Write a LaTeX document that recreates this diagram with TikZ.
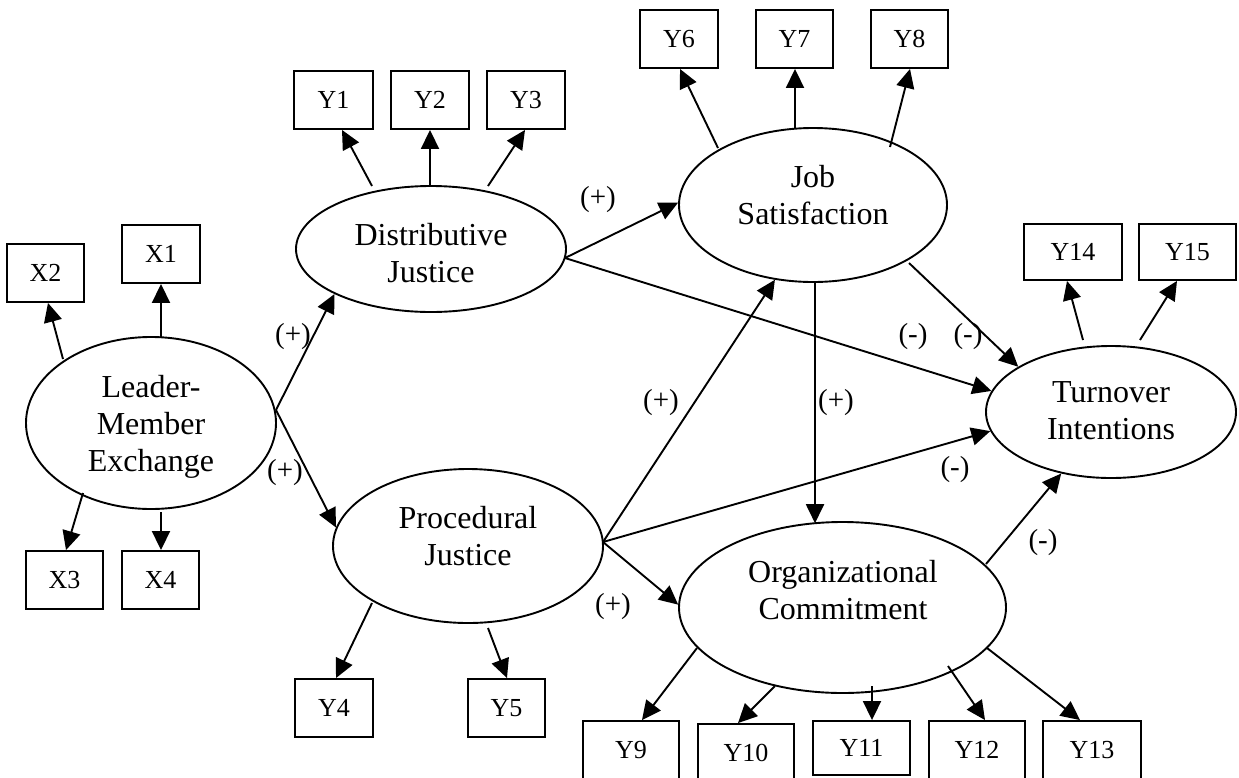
\documentclass[tikz,border=0pt]{standalone}
\usepackage{fontspec}
\setmainfont{Liberation Serif}
\usetikzlibrary{shapes.geometric,arrows.meta,calc}
\begin{document}
\begin{tikzpicture}[x=1pt,y=-1pt,
  lat/.style={ellipse,draw,line width=1.9pt,inner sep=0pt},
  txt/.style={inner sep=0pt,align=center,font=\fontsize{32}{37}\selectfont},
  obs/.style={rectangle,draw,line width=1.9pt,inner sep=0pt,minimum width=78pt,minimum height=58pt,font=\fontsize{26}{30}\selectfont},
  lab/.style={inner sep=0pt,font=\fontsize{29}{32}\selectfont},
  arr/.style={line width=1.9pt,-{Triangle[length=19pt,width=18pt]}}]
\useasboundingbox (0,0) rectangle (1239,777);

% latent variables
\node[lat,minimum width=250pt,minimum height=172pt] (lmx) at (151,423) {};
\node[txt] (lmxt) at (151,427) {Leader-\\Member\\Exchange};
\node[lat,minimum width=270pt,minimum height=126pt] (dj) at (431,249) {};
\node[txt] (djt) at (431,253) {Distributive\\Justice};
\node[lat,minimum width=268pt,minimum height=154pt] (js) at (813,205) {};
\node[txt] (jst) at (813,195.5) {Job\\Satisfaction};
\node[lat,minimum width=270pt,minimum height=154pt] (pj) at (468,546) {};
\node[txt] (pjt) at (468,536) {Procedural\\Justice};
\node[lat,minimum width=327pt,minimum height=171pt] (oc) at (842.5,607.5) {};
\node[txt] (oct) at (843,590) {Organizational\\Commitment};
\node[lat,minimum width=250pt,minimum height=132pt] (ti) at (1111,412) {};
\node[txt] (tit) at (1111,411) {Turnover\\Intentions};

% indicators
\node[obs,minimum width=77pt] (x2) at (45.5,273) {X2};
\node[obs] (x1) at (161,254) {X1};
\node[obs,minimum width=77pt] (x3) at (64.5,580) {X3};
\node[obs,minimum width=77pt] (x4) at (160.5,580) {X4};
\node[obs,minimum width=79pt] (y1) at (333.5,100) {Y1};
\node[obs] (y2) at (430,100) {Y2};
\node[obs] (y3) at (526,100) {Y3};
\node[obs] (y4) at (334,708) {Y4};
\node[obs,minimum width=77pt] (y5) at (506.5,708) {Y5};
\node[obs] (y6) at (679,39) {Y6};
\node[obs,minimum width=77pt] (y7) at (794.5,39) {Y7};
\node[obs,minimum width=77pt] (y8) at (909.5,39) {Y8};
\node[obs,minimum width=98pt,minimum height=56pt] (y14) at (1073,252) {Y14};
\node[obs,minimum width=97pt,minimum height=56pt] (y15) at (1187.5,252) {Y15};
\node[obs,minimum width=96pt] (y9) at (631,750) {Y9};
\node[obs,minimum width=96pt] (y10) at (746,753) {Y10};
\node[obs,minimum width=97pt,minimum height=54pt] (y11) at (861.5,748) {Y11};
\node[obs,minimum width=96pt] (y12) at (977,750) {Y12};
\node[obs,minimum width=98pt] (y13) at (1092,750) {Y13};

% LMX
\draw[arr] ($(lmx.center)+(-88,-64)$) -- ($(x2.south)+(2.5,0)$);
\draw[arr] ($(lmx.center)+(10,-86)$) -- (x1.south);
\draw[arr] ($(lmx.center)+(-68,70)$) -- ($(x3.north)+(1.5,0)$);
\draw[arr] ($(lmx.center)+(10,89)$) -- ($(x4.north)+(0.5,0)$);
\draw[arr] ($(lmx.center)+(125,-13)$) -- (dj.205);
\draw[arr] ($(lmx.center)+(125,-13)$) -- (pj.172);

% DJ
\draw[arr] ($(dj.center)+(-59,-63)$) -- ($(y1.south)+(8.5,0)$);
\draw[arr] ($(dj.center)+(-1,-63)$) -- (y2.south);
\draw[arr] ($(dj.center)+(57,-63)$) -- ($(y3.south)+(-1,0)$);
\draw[arr] ($(dj.center)+(134,9)$) -- (js.179);
\draw[arr] ($(dj.center)+(134,9)$) -- (ti.170);

% JS
\draw[arr] ($(js.center)+(-95,-57)$) -- ($(y6.south)+(1,0)$);
\draw[arr] ($(js.center)+(-18,-77)$) -- ($(y7.south)+(0.5,0)$);
\draw[arr] ($(js.center)+(77,-58)$) -- ($(y8.south)+(0.5,0)$);
\draw[arr] ($(js.center)+(96,58)$) -- (ti.154.5);
\draw[arr] ($(js.center)+(2,77)$) -- ($(oc.center)+(-27.5,-84.3)$);

% PJ
\draw[arr] ($(pj.center)+(-96,57)$) -- ($(y4.north)+(2,0)$);
\draw[arr] ($(pj.center)+(20,82)$) -- ($(y5.north)+(0.5,0)$);
\draw[arr] ($(pj.center)+(135,-4)$) -- (js.243);
\draw[arr] ($(pj.center)+(135,-4)$) -- (ti.189);
\draw[arr] ($(pj.center)+(135,-4)$) -- (oc.179);

% OC
\draw[arr] ($(oc.center)+(143.5,-43.5)$) -- (ti.231);
\draw[arr] ($(oc.center)+(-145.5,40.5)$) -- ($(y9.north)+(11,0)$);
\draw[arr] ($(oc.center)+(-67.5,78.5)$) -- ($(y10.north)+(-8,0)$);
\draw[arr] ($(oc.center)+(29.5,78.5)$) -- ($(y11.north)+(10.5,0)$);
\draw[arr] ($(oc.center)+(105.5,58.5)$) -- ($(y12.north)+(8,0)$);
\draw[arr] ($(oc.center)+(144.5,40.5)$) -- ($(y13.north)+(-12,0)$);

% TI
\draw[arr] ($(ti.center)+(-28,-72)$) -- ($(y14.south)+(-6,0)$);
\draw[arr] ($(ti.center)+(29,-72)$) -- ($(y15.south)+(-10.5,0)$);

% path signs
\node[lab] (l1) at (598,200) {(+)};
\node[lab] (l2) at (293,337) {(+)};
\node[lab] (l3) at (285,473) {(+)};
\node[lab] (l4) at (661,403) {(+)};
\node[lab] (l5) at (836,403) {(+)};
\node[lab] (l6) at (613,607) {(+)};
\node[lab] (l7) at (913,337) {(-)};
\node[lab] (l8) at (968,337) {(-)};
\node[lab] (l9) at (955,470) {(-)};
\node[lab] (l10) at (1043,543) {(-)};
\end{tikzpicture}
\end{document}
